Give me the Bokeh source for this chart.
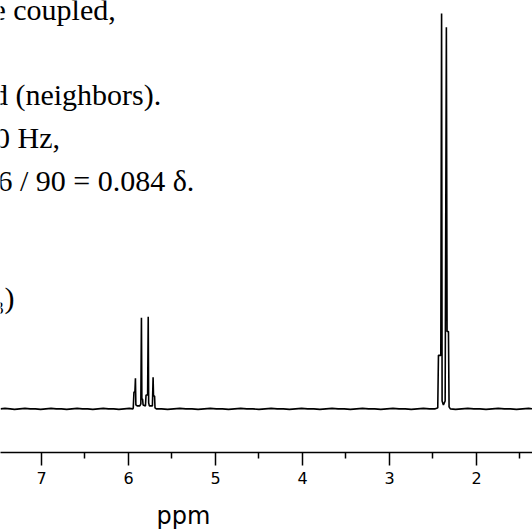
from bokeh.plotting import figure
from bokeh.models import Range1d, FixedTicker, Label, ColumnDataSource, Title
from bokeh.embed import file_html
from bokeh.resources import INLINE

# ---- data ----
ppm = [7.47, 7.42, 7.36, 7.31, 7.25, 7.19, 7.13, 7.07, 7.01, 6.95, 6.89, 6.83, 6.77,
       6.71, 6.65, 6.59, 6.53, 6.47, 6.41, 6.35, 6.29, 6.23, 6.17, 6.11, 6.05, 5.99,
       5.950,
       5.945, 5.937, 5.926, 5.920, 5.915, 5.900, 5.870, 5.858, 5.851, 5.846, 5.838,
       5.832, 5.805, 5.798, 5.790, 5.780, 5.773, 5.768, 5.760, 5.725, 5.717, 5.712,
       5.700, 5.695, 5.680,
       5.62, 5.55, 5.48, 5.41, 5.34, 5.27, 5.20, 5.13, 5.06, 4.99, 4.92, 4.85, 4.78,
       4.71, 4.64, 4.57, 4.50, 4.43, 4.36, 4.29, 4.22, 4.15, 4.08, 4.01, 3.94, 3.87,
       3.80, 3.73, 3.66, 3.59, 3.52, 3.45, 3.38, 3.31, 3.24, 3.17, 3.10, 3.03, 2.96,
       2.89, 2.82, 2.75, 2.68, 2.61, 2.54, 2.48, 2.450,
       2.445, 2.437, 2.410, 2.401, 2.395, 2.380, 2.360, 2.346, 2.338, 2.322, 2.315,
       2.300,
       2.24, 2.17, 2.10, 2.03, 1.96, 1.89, 1.82, 1.75, 1.68, 1.61, 1.54, 1.47, 1.40,
       1.35]
intensity = [0, 0.5, 0, -0.5, 0, 0.5, 0, 0, -0.5, 0, 0.5, 0, 0,
             -0.5, 0, 0.5, 0, 0, -0.5, 0, 0.5, 0, 0, -0.5, 0, 0.5,
             0,
             1, 17, 17, 31, 4, 3, 3, 5, 92, 10, 10,
             4, 3, 14, 14, 14, 93, 6, 3, 3, 32, 13,
             13, 1, 0,
             0, -0.5, 0, 0.5, 0, 0, -0.5, 0, 0.5, 0, 0, -0.5, 0,
             0.5, 0, 0, -0.5, 0, 0.5, 0, 0, -0.5, 0, 0.5, 0, 0,
             -0.5, 0, 0.5, 0, 0, -0.5, 0, 0.5, 0, 0, -0.5, 0, 0.5,
             0, 0, -0.5, 0, 0.5, 0, 0, 1,
             1, 54, 54, 399, 8, 4, 8, 385, 78, 78, 2,
             0,
             -0.5, 0, 0.5, 0, 0, -0.5, 0, 0.5, 0, 0, -0.5, 0, 0.5,
             0]

tick_values = [1, 2, 3, 4, 5, 6, 7]
minor_tick_values = [1.5, 2.5, 3.5, 4.5, 5.5, 6.5, 7.5]
x_label = "ppm"
text_lines = ["e coupled,", "d (neighbors).", "0 Hz,", "6 / 90 = 0.084 δ."]
last_line = "CH₃)"

# ---- figure ----
p = figure(width=532, height=529, output_backend="svg", toolbar_location=None,
           x_range=Range1d(7.471, 1.356), y_range=Range1d(-44, 412),
           y_axis_location=None, x_axis_location="below",
           min_border_left=0, min_border_right=0, min_border_top=0,
           min_border_bottom=73)
p.grid.visible = False
p.outline_line_color = None
p.background_fill_color = "white"
p.border_fill_color = "white"

src = ColumnDataSource(dict(x=ppm, y=intensity))
p.line("x", "y", source=src, line_color="black", line_width=1.6)

ax = p.xaxis[0]
ax.ticker = FixedTicker(ticks=tick_values, minor_ticks=minor_tick_values)
ax.axis_line_color = "black"
ax.axis_line_width = 1.5
ax.major_tick_line_color = "black"
ax.major_tick_line_width = 1.5
ax.major_tick_in = 0
ax.major_tick_out = 13
ax.minor_tick_line_color = "black"
ax.minor_tick_line_width = 1.5
ax.minor_tick_in = 0
ax.minor_tick_out = 6
ax.major_label_text_font = "DejaVu Sans"
ax.major_label_text_font_size = "16px"
ax.major_label_text_color = "black"
ax.major_label_standoff = 6
# invisible spacer label so the "ppm" title sits lower
ax.axis_label = " "
ax.axis_label_text_font_size = "2px"
ax.axis_label_standoff = 8

p.add_layout(Title(text=x_label, align="left", offset=156, standoff=0,
                   text_font="DejaVu Sans", text_font_size="24px",
                   text_font_style="normal", text_color="black"), "below")


def px_to_ppm(px):
    return 6 - (px - 128) / 87.0


def py_to_y(py):
    return 412 - py


starts = [-8, -7.5, -5.5, -3]
baselines = [9, 95, 138, 182]
for t, sx, by in zip(text_lines, starts, baselines):
    p.add_layout(Label(x=px_to_ppm(sx), y=py_to_y(by), text=t,
                       text_font="Liberation Serif", text_font_size="30px",
                       text_color="black", text_align="left",
                       text_baseline="alphabetic"))
p.add_layout(Label(x=px_to_ppm(14), y=py_to_y(300), text=last_line,
                   text_font="Liberation Serif", text_font_size="30px",
                   text_color="black", text_align="right",
                   text_baseline="alphabetic"))

open("out.html", "w").write(file_html(p, INLINE))
